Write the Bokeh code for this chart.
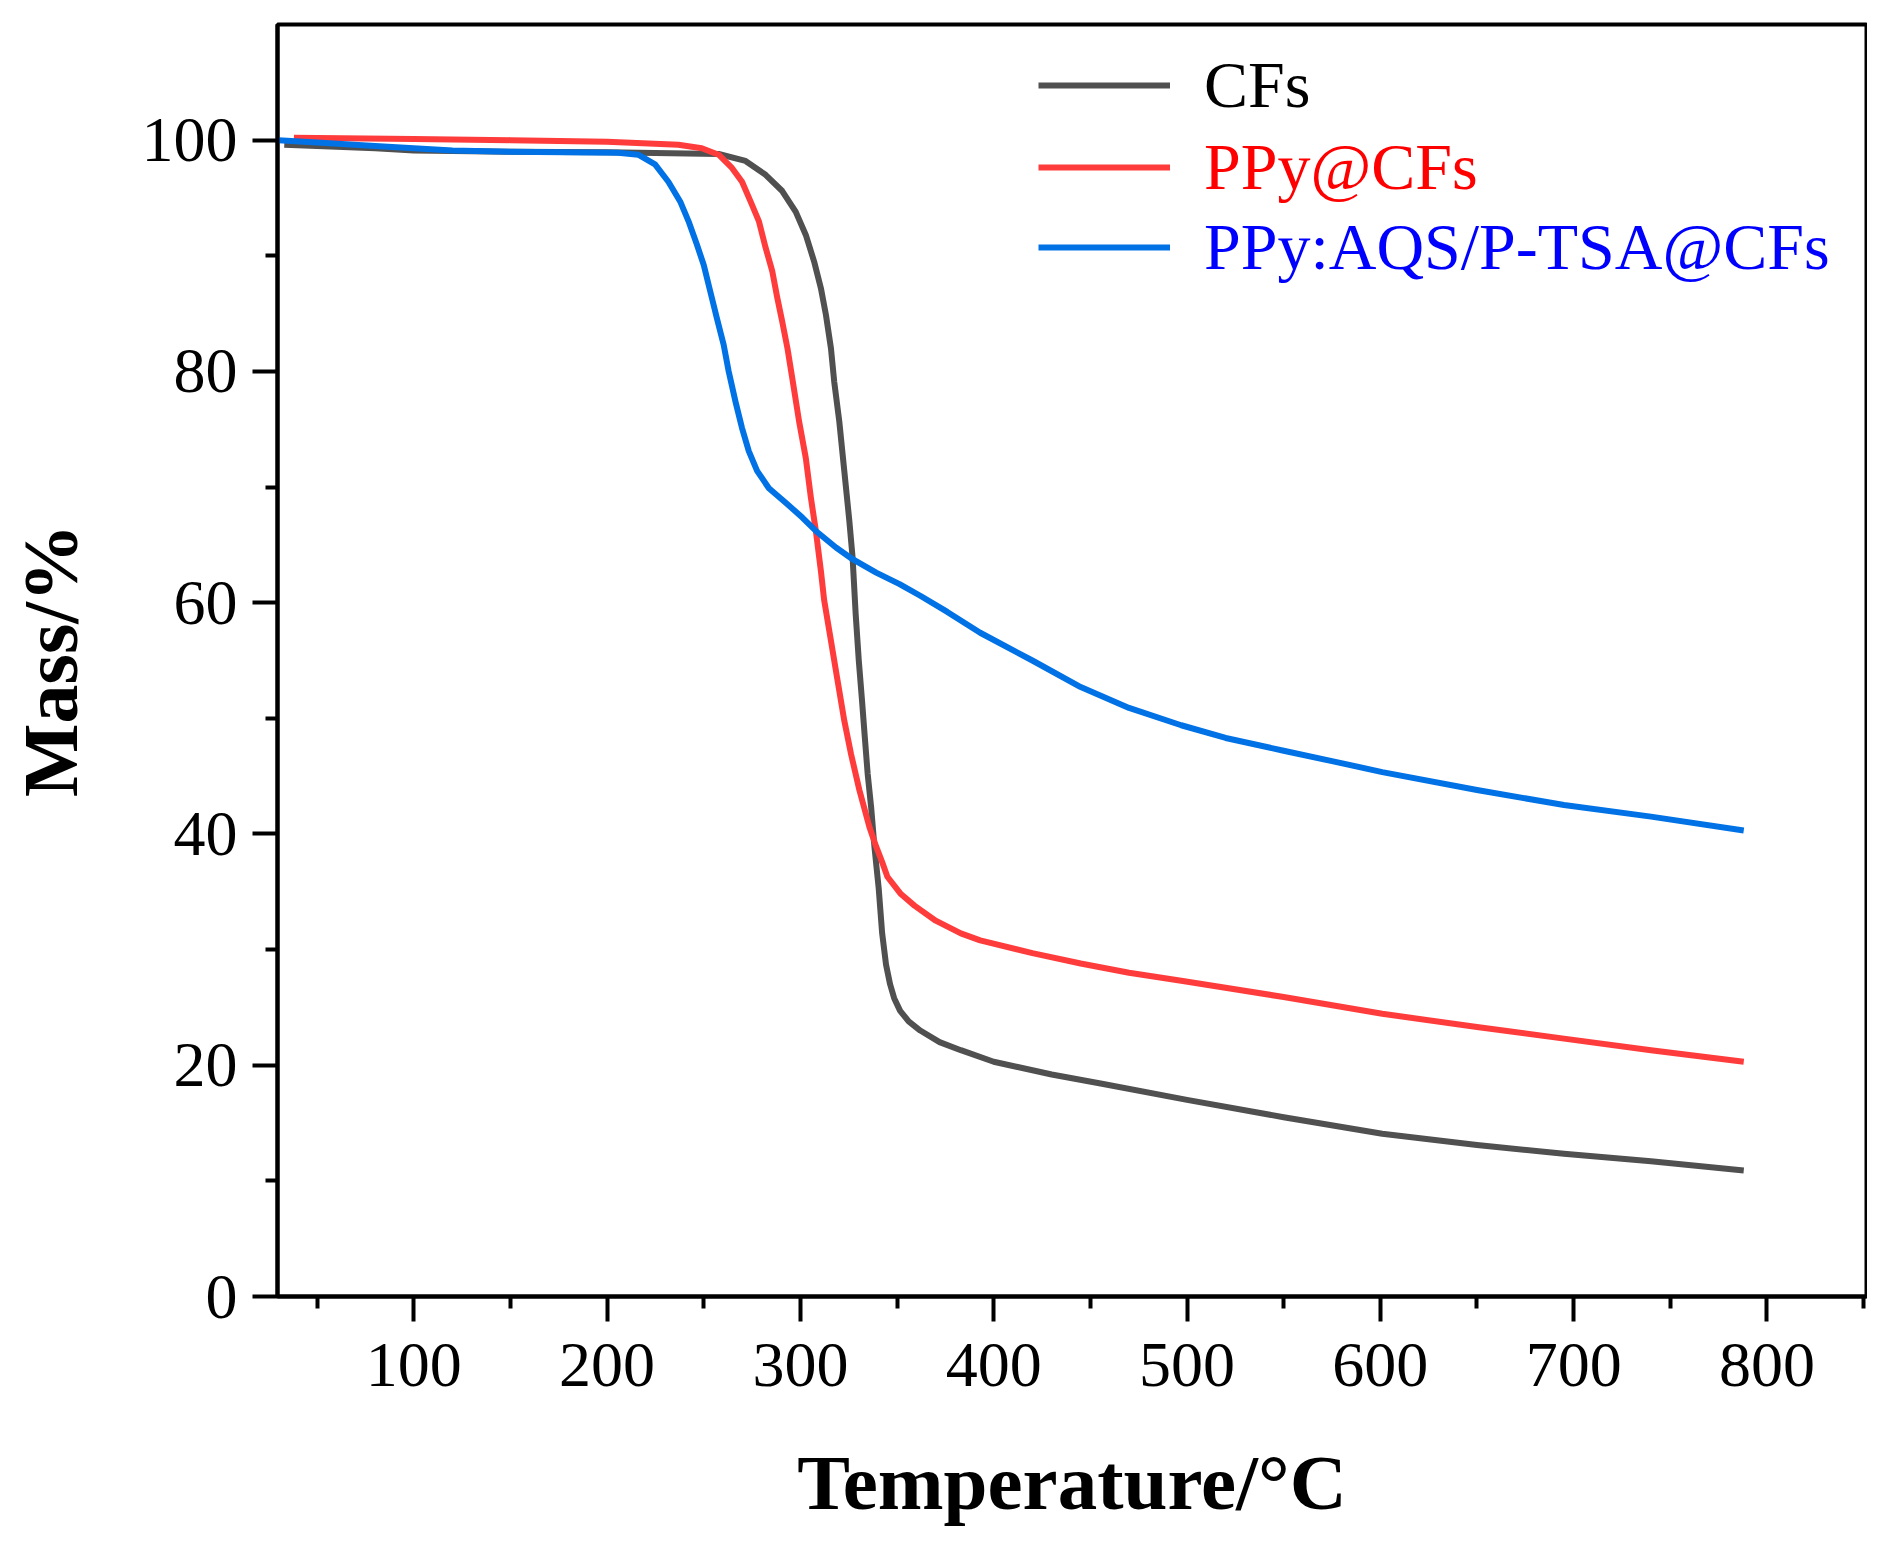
from bokeh.plotting import figure
from bokeh.models import (Legend, LegendItem, FixedTicker, Range1d)
from bokeh.embed import file_html
from bokeh.resources import INLINE

# ---------------- data ----------------
cfs_t = [33, 50, 80, 100, 150, 200, 257.7, 271.6, 282.0, 290.6, 297.6, 302.8, 307.1,
         310.6, 313.2, 315.8, 317.5, 320.1, 322.7, 325.3, 327.0, 328.6, 330.2, 331.8,
         333.3, 334.8, 336.6, 338.3, 340.5, 342.3, 344.3, 346.4, 348.5, 351.6, 356, 362,
         372, 383, 400, 430, 456, 500, 550, 601, 650, 695, 740, 788]
cfs_m = [99.6, 99.5, 99.3, 99.1, 99.0, 98.95, 98.8, 98.2, 97.0, 95.6, 93.8, 91.8, 89.5,
         87.2, 84.9, 82.0, 79.1, 75.7, 71.4, 67.1, 63.9, 59.0, 55.0, 51.7, 48.4, 45.2,
         42.3, 38.9, 35.3, 31.4, 28.7, 27.0, 25.8, 24.7, 23.8, 23.0, 22.0, 21.3, 20.3,
         19.2, 18.4, 17.0, 15.5, 14.07, 13.1, 12.35, 11.7, 10.9]

ppy_t = [38, 100, 150, 200, 236.9, 249, 257.7, 264.6, 269.8, 274.2, 278.5, 282.0, 285.4,
         288.0, 290.6, 293.3, 295.8, 299.3, 302.8, 305.4, 308.0, 310.6, 312.3, 315.8,
         319.2, 322.7, 326.2, 330.5, 335.7, 339.2, 342, 345, 352, 359, 370, 383, 393,
         420, 445, 470, 497, 550, 601, 650, 695, 740, 788]
ppy_m = [100.2, 100.1, 100.0, 99.85, 99.6, 99.3, 98.74, 97.6, 96.4, 94.7, 93.0, 90.7,
         88.7, 86.4, 84.3, 82.0, 79.4, 75.7, 72.5, 69.1, 66.2, 62.75, 60.2, 56.7, 53.3,
         49.8, 46.9, 43.8, 40.6, 38.9, 37.7, 36.3, 34.8, 33.8, 32.5, 31.4, 30.8, 29.7,
         28.8, 28.0, 27.3, 25.9, 24.45, 23.3, 22.3, 21.3, 20.3]

aqs_t = [30, 50, 80, 100, 120, 150, 205.7, 216.1, 224.8, 231.7, 237.8, 242.1, 246.4,
         250.0, 253.4, 256.8, 260.3, 262.9, 266.4, 269.8, 273.3, 277.6, 283.7, 292.4,
         301.0, 308.0, 318.4, 327.0, 339.2, 351.3, 362, 376, 393, 420, 445, 470, 497,
         520, 550, 575, 601, 650, 695, 740, 788]
aqs_m = [100.0, 99.8, 99.5, 99.3, 99.1, 99.0, 98.9, 98.74, 97.9, 96.4, 94.7, 93.0, 91.0,
         89.2, 86.9, 84.6, 82.3, 80.0, 77.4, 75.1, 73.1, 71.4, 69.9, 68.65, 67.36, 66.2,
         64.77, 63.76, 62.6, 61.6, 60.6, 59.2, 57.4, 55.0, 52.7, 50.9, 49.4, 48.3, 47.2,
         46.3, 45.35, 43.8, 42.5, 41.5, 40.3]

series_names = ["CFs", "PPy@CFs", "PPy:AQS/P-TSA@CFs"]
line_colors = ["#505050", "#ff3c3c", "#0072e6"]
label_colors = ["#000000", "#ff0000", "#0000ff"]

x_major = [100, 200, 300, 400, 500, 600, 700, 800]
x_minor = [50, 150, 250, 350, 450, 550, 650, 750, 850]
y_major = [0, 20, 40, 60, 80, 100]
y_minor = [10, 30, 50, 70, 90]

FONT = "Liberation Serif"

# ---------------- figure ----------------
p = figure(width=1867, height=1540, output_backend="svg", toolbar_location=None,
           x_range=Range1d(29.5, 851.5), y_range=Range1d(0, 110),
           min_border_left=277, min_border_right=1, min_border_top=24,
           min_border_bottom=244)
p.background_fill_color = "white"
p.border_fill_color = "white"
p.grid.visible = False
p.outline_line_color = "black"
p.outline_line_width = 4
p.outline_line_alpha = 1.0

renderers = []
for t, m, c in zip([cfs_t, ppy_t, aqs_t], [cfs_m, ppy_m, aqs_m], line_colors):
    r = p.line(t, m, line_color=c, line_width=6, line_join="round")
    renderers.append(r)

# axes
p.xaxis.ticker = FixedTicker(ticks=x_major, minor_ticks=x_minor)
p.yaxis.ticker = FixedTicker(ticks=y_major, minor_ticks=y_minor)
for ax in (p.xaxis[0], p.yaxis[0]):
    ax.axis_line_width = 4
    ax.axis_line_color = "black"
    ax.major_tick_line_width = 4
    ax.minor_tick_line_width = 4
    ax.major_tick_line_color = "black"
    ax.minor_tick_line_color = "black"
    ax.major_tick_out = 25
    ax.major_tick_in = 0
    ax.minor_tick_out = 12
    ax.minor_tick_in = 0
    ax.major_label_text_font = FONT
    ax.major_label_text_font_size = "64px"
    ax.major_label_text_color = "black"
    ax.axis_label_text_font = FONT
    ax.axis_label_text_font_style = "bold"
    ax.axis_label_text_color = "black"

p.xaxis.axis_label = "Temperature/°C"
p.yaxis.axis_label = "Mass/%"
p.xaxis.axis_label_text_font_size = "79px"
p.yaxis.axis_label_text_font_size = "78px"
p.xaxis.major_label_standoff = 22
p.yaxis.major_label_standoff = 15
p.xaxis.axis_label_standoff = 50
p.yaxis.axis_label_standoff = 45

# legends: one per series so that each label keeps its own colour
legend_y = [1171, 1089, 1009]
for name, r, lc, ly in zip(series_names, renderers, label_colors, legend_y):
    lg = Legend(items=[LegendItem(label=name, renderers=[r])],
                location=(761, ly), orientation="vertical",
                padding=0, margin=0, spacing=0,
                glyph_width=132, glyph_height=80, label_height=80,
                label_standoff=34,
                label_text_font=FONT, label_text_font_size="66px",
                label_text_color=lc,
                border_line_alpha=0, background_fill_alpha=0)
    p.add_layout(lg, "center")

open("out.html", "w").write(file_html(p, INLINE))
